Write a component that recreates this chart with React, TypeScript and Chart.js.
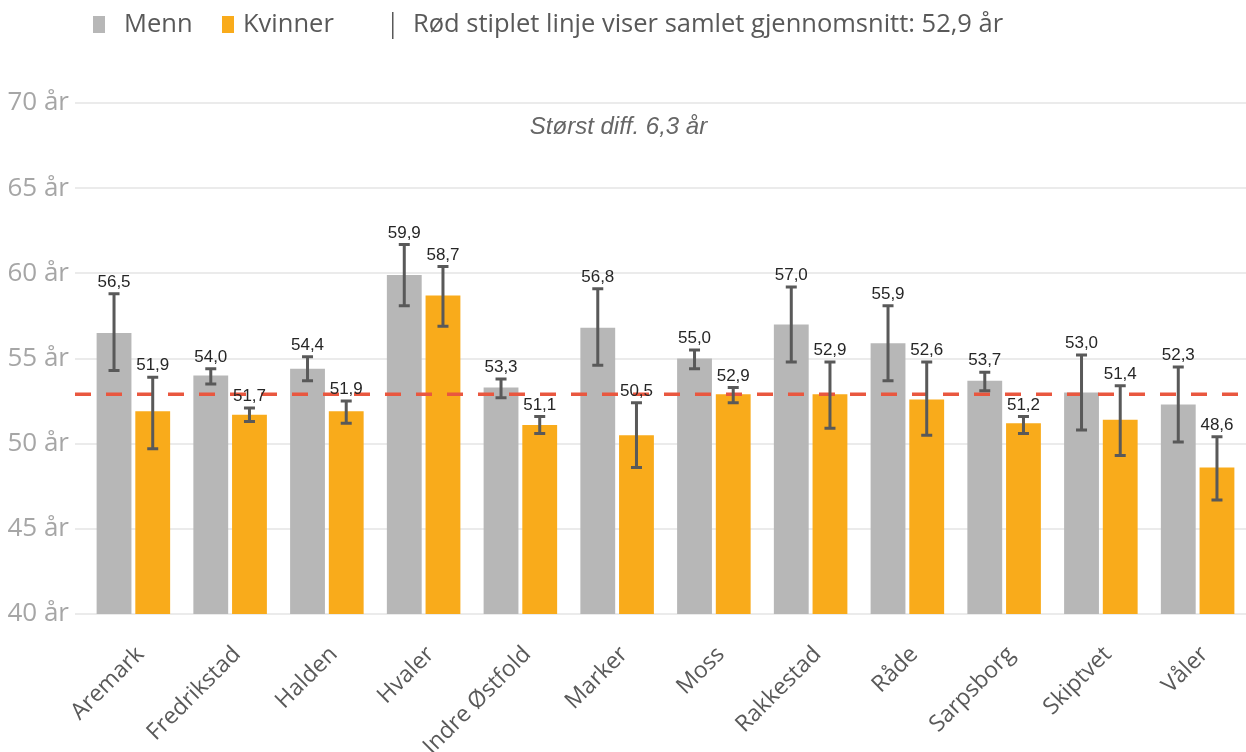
import React, { useEffect, useRef } from "react";
import { Chart, registerables } from "chart.js";

Chart.register(...registerables);

const categories = ["Aremark", "Fredrikstad", "Halden", "Hvaler", "Indre Østfold", "Marker", "Moss", "Rakkestad", "Råde", "Sarpsborg", "Skiptvet", "Våler"];
const menn = [56.5, 54.0, 54.4, 59.9, 53.3, 56.8, 55.0, 57.0, 55.9, 53.7, 53.0, 52.3];
const kvinner = [51.9, 51.7, 51.9, 58.7, 51.1, 50.5, 52.9, 52.9, 52.6, 51.2, 51.4, 48.6];
const mennLow = [54.3, 53.5, 53.7, 58.1, 52.7, 54.6, 54.4, 54.8, 53.7, 53.1, 50.8, 50.1];
const mennHigh = [58.8, 54.4, 55.1, 61.7, 53.8, 59.1, 55.5, 59.2, 58.1, 54.2, 55.2, 54.5];
const kvinnerLow = [49.7, 51.3, 51.2, 56.9, 50.6, 48.6, 52.4, 50.9, 50.5, 50.6, 49.3, 46.7];
const kvinnerHigh = [53.9, 52.1, 52.5, 60.4, 51.6, 52.4, 53.3, 54.8, 54.8, 51.6, 53.4, 50.4];
const average = 52.9;
const yTicks = [40, 45, 50, 55, 60, 65, 70];
const legendNote = "Rød stiplet linje viser samlet gjennomsnitt: 52,9 år";
const annotationText = "Størst diff. 6,3 år";

const GREY = "#b7b7b7";
const ORANGE = "#f9ab1b";
const ERR = "#595959";

const fmt = (v: number) => v.toFixed(1).replace(".", ",");

function drawAvg(chart: any) {
  const { ctx, chartArea, scales } = chart;
  const y = scales.y.getPixelForValue(average);
  ctx.save();
  ctx.strokeStyle = "#e9573f";
  ctx.lineWidth = 3.5;
  ctx.setLineDash([16, 15]);
  ctx.beginPath();
  ctx.moveTo(chartArea.left - 10, y);
  ctx.lineTo(chartArea.right, y);
  ctx.stroke();
  ctx.restore();
}

const overlayPlugin = {
  id: "overlay",
  afterDatasetsDraw(chart: any) {
    const { ctx, scales } = chart;
    const lows = [mennLow, kvinnerLow];
    const highs = [mennHigh, kvinnerHigh];
    const vals = [menn, kvinner];
    drawAvg(chart);
    ctx.save();
    for (let d = 0; d < 2; d++) {
      const meta = chart.getDatasetMeta(d);
      meta.data.forEach((bar: any, i: number) => {
        const x = bar.x;
        const yl = scales.y.getPixelForValue(lows[d][i]);
        const yh = scales.y.getPixelForValue(highs[d][i]);
        ctx.strokeStyle = ERR;
        ctx.lineWidth = 3;
        ctx.setLineDash([]);
        ctx.beginPath();
        ctx.moveTo(x, yl);
        ctx.lineTo(x, yh);
        ctx.moveTo(x - 5.5, yl);
        ctx.lineTo(x + 5.5, yl);
        ctx.moveTo(x - 5.5, yh);
        ctx.lineTo(x + 5.5, yh);
        ctx.stroke();
        ctx.fillStyle = "#262626";
        ctx.font = "17px 'Liberation Sans', Arial, sans-serif";
        ctx.textAlign = "center";
        ctx.textBaseline = "bottom";
        ctx.fillText(fmt(vals[d][i]), x, yh - 3);
      });
    }
    ctx.restore();
  },
  afterDraw(chart: any) {
    const { ctx, chartArea } = chart;
    ctx.save();
    const cy = 25;
    ctx.textBaseline = "middle";
    ctx.textAlign = "left";
    ctx.font = "25.5px 'Open Sans', sans-serif";
    ctx.fillStyle = GREY;
    ctx.fillRect(93, 16, 12, 17);
    ctx.fillStyle = "#595959";
    ctx.fillText("Menn", 124, cy);
    ctx.fillStyle = ORANGE;
    ctx.fillRect(222, 16, 12, 17);
    ctx.fillStyle = "#595959";
    ctx.fillText("Kvinner", 243, cy);
    ctx.fillRect(392, 12, 1.5, 27);
    ctx.fillText(legendNote, 413, cy);
    ctx.font = "italic 24px 'Liberation Sans', Arial, sans-serif";
    ctx.fillStyle = "#666666";
    ctx.textAlign = "center";
    ctx.fillText(annotationText, (chartArea.left + chartArea.right) / 2 - 47, 127);
    ctx.restore();
  },
};

export default function App() {
  const ref = useRef<HTMLCanvasElement>(null);
  useEffect(() => {
    document.body.style.margin = "0";
    const chart = new Chart(ref.current as HTMLCanvasElement, {
      type: "bar",
      data: {
        labels: categories,
        datasets: [
          { label: "Menn", data: menn, backgroundColor: GREY, borderWidth: 0 },
          { label: "Kvinner", data: kvinner, backgroundColor: ORANGE, borderWidth: 0 },
        ],
      },
      options: {
        responsive: false,
        animation: false,
        devicePixelRatio: 1,
        layout: { padding: { top: 103, left: 0, right: 0, bottom: 0 } },
        datasets: { bar: { categoryPercentage: 0.8, barPercentage: 0.9 } },
        plugins: { legend: { display: false }, tooltip: { enabled: false } },
        scales: {
          y: {
            min: 40,
            max: 70,
            afterBuildTicks: (s: any) => {
              s.ticks = yTicks.map((v) => ({ value: v }));
            },
            afterFit: (s: any) => {
              s.width = 85;
            },
            ticks: {
              callback: (v: any) => `${v} år`,
              color: "#a6a6a6",
              font: { family: "'Open Sans', sans-serif", size: 26 },
              padding: 6,
            },
            grid: { color: "#ebebeb", lineWidth: 2, tickLength: 10, tickColor: "#ebebeb" },
            border: { display: false },
          },
          x: {
            afterFit: (s: any) => {
              s.height = 138;
            },
            ticks: {
              maxRotation: 45,
              minRotation: 45,
              color: "#595959",
              font: { family: "'Open Sans', sans-serif", size: 23 },
              padding: 19,
              labelOffset: 7,
            },
            grid: { display: false },
            border: { display: false },
          },
        },
      },
      plugins: [overlayPlugin],
    } as any);
    return () => chart.destroy();
  }, []);
  return (
    <div style={{ position: "fixed", left: 0, top: 0, width: 1246, height: 752 }}>
      <canvas ref={ref} width={1246} height={752} />
    </div>
  );
}
